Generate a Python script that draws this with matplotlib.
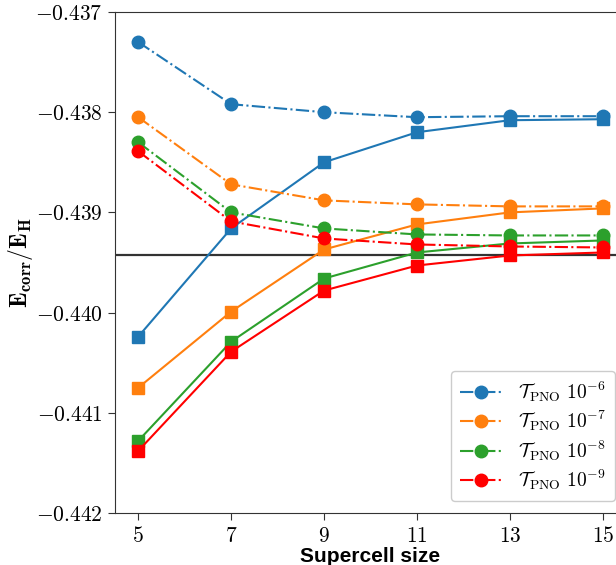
import matplotlib
matplotlib.use('Agg')
import matplotlib.pyplot as plt
from matplotlib.ticker import FuncFormatter

plt.rcParams['mathtext.fontset'] = 'cm'

# supercell sizes
sizes = [5, 7, 9, 11, 13, 15]

# dash-dot curves (circles)
circ_6 = [-0.43730, -0.43792, -0.43800, -0.43805, -0.43804, -0.43804]
circ_7 = [-0.43805, -0.43872, -0.43888, -0.43892, -0.43894, -0.43894]
circ_8 = [-0.43830, -0.43900, -0.43916, -0.43922, -0.43923, -0.43923]
circ_9 = [-0.43839, -0.43909, -0.43926, -0.43932, -0.43934, -0.43935]

# solid curves (squares)
sq_6 = [-0.44024, -0.43916, -0.43850, -0.43820, -0.43808, -0.43807]
sq_7 = [-0.44075, -0.43999, -0.43937, -0.43912, -0.43900, -0.43896]
sq_8 = [-0.44128, -0.44029, -0.43966, -0.43940, -0.43931, -0.43928]
sq_9 = [-0.44138, -0.44039, -0.43978, -0.43953, -0.43943, -0.43940]

ref_line = -0.43943

labels = [r'$\mathcal{T}_{\mathrm{PNO}}\ 10^{-6}$',
          r'$\mathcal{T}_{\mathrm{PNO}}\ 10^{-7}$',
          r'$\mathcal{T}_{\mathrm{PNO}}\ 10^{-8}$',
          r'$\mathcal{T}_{\mathrm{PNO}}\ 10^{-9}$']
colors = ['#1f77b4', '#ff7f0e', '#2ca02c', 'red']

fig = plt.figure(figsize=(6.16, 5.65), dpi=100)
ax = fig.add_axes([115/616, 52/565, 511/616, 501/565])

ax.axhline(ref_line, color='black', lw=1.6, alpha=0.8, zorder=1)

for c, s, col, lab in zip([circ_6, circ_7, circ_8, circ_9],
                          [sq_6, sq_7, sq_8, sq_9], colors, labels):
    ax.plot(sizes, c, '-.', marker='o', color=col, ms=9, lw=1.5, label=lab)
    ax.plot(sizes, s, '-', marker='s', color=col, ms=9, lw=1.5)

ax.set_xlim(4.5, 15.5)
ax.set_ylim(-0.442, -0.437)
ax.set_xticks(sizes)
ax.set_yticks([-0.442, -0.441, -0.440, -0.439, -0.438, -0.437])
ax.xaxis.set_major_formatter(FuncFormatter(lambda v, p: r'$%d$' % v))
ax.yaxis.set_major_formatter(FuncFormatter(lambda v, p: r'$%.3f$' % v))
ax.tick_params(labelsize=15.5, length=5, pad=4, color='#333333')
for sp in ax.spines.values():
    sp.set_color('#333333')

ax.set_xlabel('Supercell size', fontsize=15, fontweight='bold',
              family='Liberation Sans', labelpad=1)
ax.set_ylabel(r'$\mathbf{E_{corr}/E_{H}}$', fontsize=17, labelpad=0)

ax.legend(loc='lower right', fontsize=14, handlelength=2.2,
          borderpad=0.45, labelspacing=0.25, framealpha=1,
          edgecolor='#cccccc', borderaxespad=0,
          bbox_to_anchor=(0.978, 0.024))

fig.savefig('out.png', dpi=100)
